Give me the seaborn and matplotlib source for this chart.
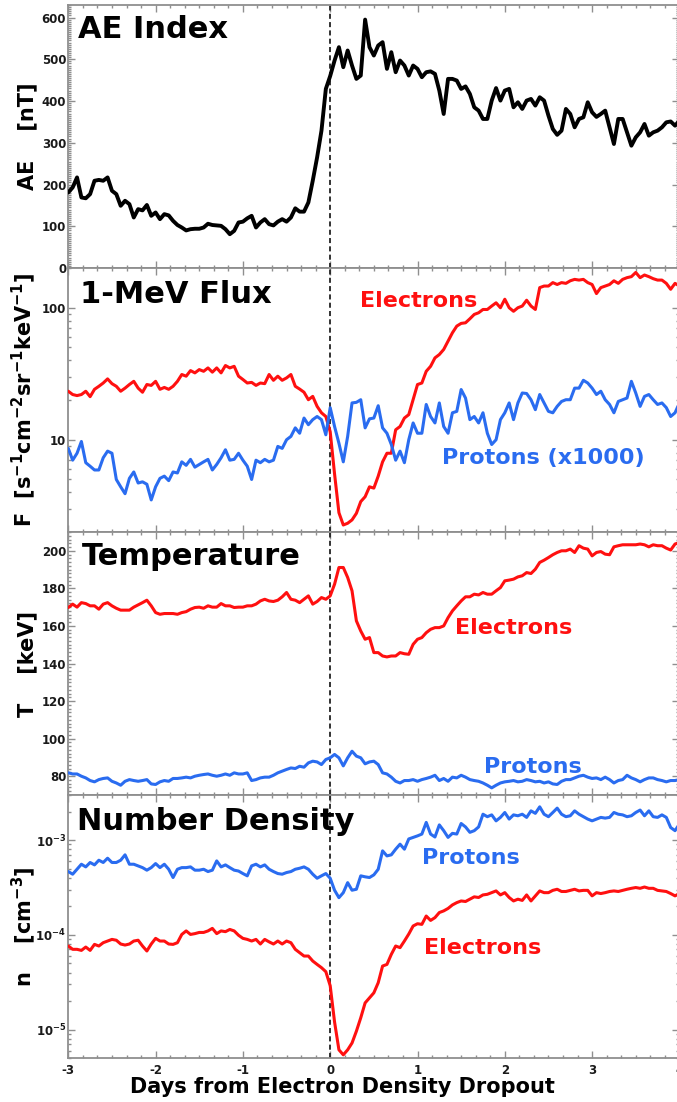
import numpy as np
import pandas as pd
import matplotlib
matplotlib.use("Agg")
import matplotlib.pyplot as plt
import seaborn as sns
from matplotlib.ticker import MultipleLocator, FixedLocator, LogLocator, NullFormatter, FuncFormatter

# ---------------------------------------------------------------------------
# Superposed-epoch averages around the electron density dropout (day 0)
# ---------------------------------------------------------------------------
days = np.round(np.linspace(-3.0, 4.0, 141), 2)  # 0.05-day cadence

ae_index = [
    181, 193, 217, 169, 167, 177, 209, 211, 209, 217,
    185, 177, 149, 161, 153, 121, 141, 138, 151, 125,
    133, 117, 129, 126, 113, 103, 97, 90, 93, 94,
    94, 97, 106, 103, 102, 101, 93, 81, 89, 109,
    111, 119, 125, 97, 109, 117, 105, 102, 111, 117,
    111, 121, 143, 135, 135, 157, 209, 265, 329, 429,
    460,
    497, 529, 481, 521, 485, 453, 461, 595, 529, 509,
    533, 541, 477, 517, 469, 497, 485, 461, 485, 477,
    457, 469, 471, 465, 425, 369, 453, 453, 449, 429,
    435, 417, 385, 377, 357, 357, 401, 431, 401, 425,
    429, 385, 397, 381, 401, 405, 389, 409, 401, 365,
    333, 319, 329, 381, 369, 337, 357, 361, 397, 373,
    362, 369, 377, 337, 297, 357, 357, 325, 293, 313,
    325, 345, 317, 325, 329, 337, 349, 351, 341, 353,
]

flux_electrons = [
    23.3, 22.0, 21.6, 22.0, 23.3, 21.2, 24.1, 25.4, 26.9, 28.9,
    26.6, 25.4, 23.3, 24.6, 26.2, 27.7, 24.6, 22.9, 26.2, 25.8,
    27.7, 24.1, 24.9, 24.1, 25.4, 27.7, 31.2, 30.3, 33.4, 32.1,
    34.0, 33.0, 35.0, 32.5, 35.0, 32.1, 36.5, 35.0, 36.0, 30.3,
    28.6, 26.9, 27.2, 25.8, 26.9, 26.6, 31.2, 28.2, 30.3, 28.2,
    29.4, 31.2, 25.4, 24.2, 22.9, 20.1, 21.3, 17.9, 16.0, 15.0,
    11.5,
    5.5, 2.8, 2.26, 2.33, 2.47, 2.77, 3.4, 3.7, 4.4, 4.3,
    5.3, 6.8, 7.9, 7.9, 11.9, 12.6, 14.6, 15.5, 20.1, 26.2,
    26.9, 33.0, 36.0, 41.7, 44.2, 48.3, 55.9, 64.6, 72.6, 76.1,
    76.9, 82.5, 89.0, 91.6, 97, 97, 103, 109, 100, 116,
    100, 94, 100, 103, 114, 103, 97, 142, 146, 146,
    155, 150, 155, 153, 160, 164, 162, 164, 155, 150,
    128, 142, 146, 150, 160, 153, 164, 169, 172, 185,
    169, 177, 172, 166, 162, 162, 153, 138, 153, 146,
]

flux_protons_x1000 = [
    8.6, 7.0, 7.9, 9.7, 6.7, 6.3, 5.9, 5.9, 7.3, 8.2,
    7.9, 5.0, 4.4, 3.9, 5.1, 5.7, 4.7, 4.8, 4.6, 3.5,
    4.4, 5.1, 5.3, 4.9, 5.7, 5.6, 6.8, 6.4, 7.1, 6.2,
    6.5, 6.8, 7.1, 5.9, 6.5, 7.3, 8.4, 7.0, 7.1, 7.9,
    7.0, 6.3, 5.0, 7.0, 6.7, 7.1, 6.8, 7.0, 8.9, 8.6,
    10.0, 10.6, 12.3, 11.2, 14.6, 13.0, 14.2, 15.0, 14.2, 10.9,
    17.5,
    12.6, 9.4, 6.8, 10.6, 19.0, 19.2, 20.1, 12.3, 14.4, 14.6,
    18.1, 12.3, 11.2, 9.2, 7.0, 8.2, 6.7, 10.0, 13.4, 11.2,
    11.2, 18.5, 15.0, 13.4, 19.0, 12.6, 11.2, 16.0, 16.4, 24.0,
    20.7, 14.2, 15.0, 13.4, 16.0, 11.2, 9.2, 10.0, 14.2, 16.0,
    19.0, 14.2, 19.0, 22.6, 22.4, 20.1, 16.9, 22.0, 19.0, 16.4,
    16.0, 17.9, 19.5, 20.1, 20.1, 24.6, 24.6, 28.2, 26.9, 24.6,
    22.0, 23.3, 20.1, 18.5, 16.0, 19.5, 20.1, 20.7, 27.7, 22.6,
    17.9, 21.3, 22.0, 20.1, 18.5, 19.0, 17.5, 15.0, 16.0, 19.0,
]

temp_electrons = [
    169.8, 171.6, 170.0, 172.4, 171.9, 170.7, 170.7, 168.9, 171.6, 172.4,
    170.7, 169.4, 168.4, 168.4, 168.4, 170.0, 171.2, 172.4, 173.7, 170.7,
    167.1, 166.2, 166.6, 166.6, 166.6, 166.2, 167.1, 167.6, 168.9, 169.8,
    170.0, 169.4, 170.7, 170.0, 170.0, 171.9, 170.7, 170.7, 169.8, 170.0,
    170.0, 170.7, 170.7, 171.6, 173.3, 174.2, 173.3, 173.0, 173.7, 175.5,
    177.8, 174.2, 173.7, 172.4, 174.2, 176.0, 171.6, 173.0, 175.1, 174.2,
    176.0,
    182.2, 191.1, 191.1, 185.8, 178.7, 162.7, 157.3, 152.9, 153.8, 145.8,
    145.8, 144.0, 143.5, 144.0, 144.0, 145.8, 145.2, 144.9, 150.2, 152.9,
    153.8, 156.4, 158.2, 159.1, 159.1, 160.0, 164.4, 168.0, 170.7, 173.3,
    175.5, 175.5, 176.9, 176.5, 177.8, 176.9, 176.9, 178.7, 180.4, 184.0,
    184.4, 184.9, 186.1, 186.7, 188.4, 187.9, 190.2, 193.8, 195.0, 196.4,
    197.9, 199.1, 200.0, 200.0, 200.9, 199.1, 202.7, 201.4, 200.9, 197.3,
    199.1, 199.6, 198.2, 197.9, 202.1, 202.7, 203.2, 203.2, 203.2, 203.2,
    203.6, 203.2, 202.1, 203.2, 202.7, 202.7, 201.4, 200.4, 203.6, 204.4,
]

temp_protons = [
    81.8, 81.2, 81.2, 80.0, 79.1, 77.7, 77.0, 78.2, 78.8, 79.1,
    77.3, 76.4, 75.2, 77.3, 78.2, 77.7, 77.3, 77.7, 78.2, 75.9,
    75.6, 77.0, 77.7, 77.3, 78.8, 78.8, 79.1, 79.5, 79.1, 80.0,
    80.5, 80.9, 81.2, 80.5, 80.0, 80.5, 81.2, 80.5, 81.8, 81.2,
    81.2, 81.8, 77.7, 78.2, 79.1, 79.5, 79.5, 80.5, 81.8, 82.7,
    83.6, 84.4, 84.1, 85.3, 84.8, 87.1, 88.0, 87.6, 86.2, 88.9,
    89.8,
    91.6, 89.8, 85.5, 89.8, 93.3, 90.7, 89.8, 86.6, 87.6, 88.0,
    86.2, 81.8, 81.2, 79.5, 77.3, 76.4, 77.7, 77.7, 78.2, 77.3,
    78.2, 78.8, 79.5, 80.5, 77.7, 78.8, 77.3, 79.5, 79.1, 80.5,
    79.5, 78.2, 77.7, 77.3, 76.4, 75.2, 73.8, 75.2, 76.4, 77.0,
    77.3, 77.7, 77.0, 77.3, 78.2, 77.7, 77.0, 77.3, 76.4, 77.0,
    75.9, 75.6, 77.3, 78.2, 78.2, 79.1, 80.0, 80.5, 79.5, 78.8,
    79.1, 78.2, 79.5, 78.2, 76.4, 77.7, 78.2, 80.5, 79.1, 78.2,
    77.0, 78.2, 79.1, 79.1, 78.2, 77.7, 77.0, 77.7, 77.7, 78.2,
]

# number densities in units of 1e-4 cm^-3
DENSITY_UNIT = 1e-4
density_protons = [
    4.66, 4.37, 4.93, 5.57, 5.22, 5.81, 5.48, 6.14, 5.81, 6.45,
    5.81, 5.81, 6.14, 7.00, 5.57, 5.57, 5.35, 5.13, 4.82, 5.13,
    5.66, 5.13, 5.57, 4.93, 4.03, 4.93, 5.13, 5.13, 5.22, 4.82,
    4.82, 4.93, 4.66, 4.82, 6.04, 5.22, 5.48, 5.13, 4.82, 4.72,
    4.44, 4.20, 5.35, 5.57, 5.22, 5.48, 4.93, 4.66, 4.44, 4.37,
    4.55, 4.66, 4.93, 5.05, 5.22, 4.93, 4.37, 3.96, 4.20, 4.44,
    3.96,
    2.96, 2.47, 2.79, 3.56, 2.96, 3.03, 4.20, 4.10, 4.03, 4.30,
    4.93, 7.71, 6.82, 7.00, 8.03, 9.07, 8.03, 10.3, 10.7, 11.1,
    11.6, 15.4, 11.6, 10.8, 14.5, 12.6, 10.7, 11.8, 11.6, 15.0,
    13.8, 12.1, 12.6, 13.8, 18.8, 17.7, 18.5, 16.0, 17.4, 19.6,
    16.7, 18.5, 18.1, 18.8, 17.4, 20.4, 19.2, 22.5, 18.8, 17.7,
    19.6, 21.8, 18.8, 17.7, 18.1, 20.4, 18.8, 17.7, 16.7, 16.0,
    16.7, 17.4, 17.1, 17.4, 19.6, 18.8, 18.5, 17.7, 18.1, 19.6,
    20.8, 18.1, 20.4, 17.7, 17.4, 18.5, 17.4, 13.6, 12.6, 14.8,
]

density_electrons = [
    0.762, 0.703, 0.703, 0.685, 0.743, 0.685, 0.793, 0.762, 0.826, 0.860,
    0.895, 0.877, 0.800, 0.780, 0.800, 0.860, 0.877, 0.762, 0.675, 0.800,
    0.918, 0.860, 0.860, 0.800, 0.793, 0.826, 1.010, 1.100, 1.010, 1.030,
    1.060, 1.060, 1.100, 1.170, 1.030, 1.100, 1.080, 1.140, 1.100, 0.990,
    0.918, 0.895, 0.860, 0.895, 0.800, 0.895, 0.843, 0.800, 0.860, 0.800,
    0.860, 0.826, 0.703, 0.647, 0.597, 0.597, 0.529, 0.487, 0.450, 0.408,
    0.290,
    0.120, 0.061, 0.054, 0.061, 0.072, 0.096, 0.133, 0.191, 0.216, 0.244,
    0.312, 0.468, 0.487, 0.622, 0.762, 0.732, 0.860, 1.020, 1.240, 1.310,
    1.290, 1.580, 1.420, 1.520, 1.720, 1.790, 1.900, 2.070, 2.190, 2.280,
    2.250, 2.380, 2.520, 2.480, 2.640, 2.680, 2.790, 2.910, 2.640, 2.790,
    2.480, 2.280, 2.380, 2.310, 2.640, 2.280, 2.580, 2.910, 2.790, 2.790,
    2.950, 3.030, 2.870, 2.870, 2.950, 3.030, 2.910, 2.950, 2.950, 2.580,
    2.790, 2.730, 2.790, 2.870, 2.910, 2.870, 2.950, 3.030, 3.100, 3.160,
    3.100, 3.200, 3.100, 3.100, 2.950, 2.910, 2.870, 2.730, 2.580, 2.730,
]

ae_ticks = [0, 100, 200, 300, 400, 500, 600]
temp_ticks = [80, 100, 120, 140, 160, 180, 200]
flux_ticks = [10, 100]
density_ticks = [1e-5, 1e-4, 1e-3]
day_ticks = [-3, -2, -1, 0, 1, 2, 3, 4]

# ---------------------------------------------------------------------------
# Styling
# ---------------------------------------------------------------------------
sns.set_style("ticks")
plt.rcParams.update({
    "font.family": ["DejaVu Sans"],
    "font.weight": "bold",
    "axes.labelweight": "bold",
    "mathtext.fontset": "dejavusans",
    "mathtext.default": "bf",
    "axes.edgecolor": "#8f8f8f",
    "axes.linewidth": 1.3,
    "xtick.color": "#8f8f8f",
    "ytick.color": "#8f8f8f",
    "xtick.labelcolor": "#1a1a1a",
    "ytick.labelcolor": "#1a1a1a",
})

RED = "#ff1010"
BLUE = "#2a6cf0"
BLACK = "#000000"

W_PX, H_PX = 677, 1102
fig = plt.figure(figsize=(W_PX / 100, H_PX / 100), dpi=100)

left_px, right_px = 68.3, 679.4
edges_px = [5, 268, 532, 795, 1058]
axes = []
for top, bot in zip(edges_px[:-1], edges_px[1:]):
    ax = fig.add_axes([left_px / W_PX, 1 - bot / H_PX,
                       (right_px - left_px) / W_PX, (bot - top) / H_PX])
    axes.append(ax)
ax_ae, ax_flux, ax_temp, ax_dens = axes


def style_axis(ax, show_xlabels):
    ax.set_xlim(-3, 4)
    ax.xaxis.set_major_locator(FixedLocator(day_ticks))
    ax.xaxis.set_minor_locator(MultipleLocator(1 / 6))
    ax.tick_params(which="both", direction="in", top=True, right=True,
                   width=1.0, labelsize=8.5, pad=1.5)
    ax.tick_params(which="major", length=5)
    ax.tick_params(which="minor", length=2.5)
    ax.tick_params(axis="x", labelbottom=show_xlabels, pad=4)
    ax.axvline(0, color="#222222", lw=1.3, ls=(0, (2.8, 1.8)), zorder=1)
    ax.set_xlabel("")
    for s in ax.spines.values():
        s.set_visible(True)


def panel_title(ax, text, x, y):
    ax.text(x, y, text, transform=ax.transAxes, ha="left", va="top",
            fontsize=22, fontweight="bold", color="black")


def ylab(ax, text):
    ax.set_ylabel(text, fontsize=15, fontweight="bold", color="black")
    ax.yaxis.set_label_coords(-0.05, 0.5)


# --- AE index -------------------------------------------------------------
sns.lineplot(x=days, y=ae_index, ax=ax_ae, color=BLACK, lw=2.8,
             estimator=None, legend=False, zorder=3)
ax_ae.set_ylim(0, 630)
ax_ae.yaxis.set_major_locator(FixedLocator(ae_ticks))
ax_ae.yaxis.set_minor_locator(MultipleLocator(5))
style_axis(ax_ae, False)
panel_title(ax_ae, "AE Index", 0.016, 0.962)
ylab(ax_ae, "AE    [nT]")

# --- 1-MeV flux -----------------------------------------------------------
sns.lineplot(x=days, y=flux_electrons, ax=ax_flux, color=RED, lw=2.2,
             estimator=None, legend=False, zorder=3)
sns.lineplot(x=days, y=flux_protons_x1000, ax=ax_flux, color=BLUE, lw=2.2,
             estimator=None, legend=False, zorder=3)
ax_flux.set_yscale("log")
ax_flux.set_ylim(2, 200)
ax_flux.yaxis.set_major_locator(FixedLocator(flux_ticks))
ax_flux.yaxis.set_major_formatter(FuncFormatter(lambda v, p: f"{v:g}"))
ax_flux.yaxis.set_minor_locator(LogLocator(base=10, subs=np.arange(2, 10)))
ax_flux.yaxis.set_minor_formatter(NullFormatter())
style_axis(ax_flux, False)
panel_title(ax_flux, "1-MeV Flux", 0.019, 0.955)
ylab(ax_flux, r"F  [s$^{-1}$cm$^{-2}$sr$^{-1}$keV$^{-1}$]")
ax_flux.text(0.34, 102, "Electrons", color=RED, fontsize=16,
             fontweight="bold", ha="left", va="baseline")
ax_flux.text(1.28, 6.5, "Protons (x1000)", color=BLUE, fontsize=16,
             fontweight="bold", ha="left", va="baseline")

# --- temperature ----------------------------------------------------------
sns.lineplot(x=days, y=temp_electrons, ax=ax_temp, color=RED, lw=2.2,
             estimator=None, legend=False, zorder=3)
sns.lineplot(x=days, y=temp_protons, ax=ax_temp, color=BLUE, lw=2.2,
             estimator=None, legend=False, zorder=3)
ax_temp.set_ylim(70, 210)
ax_temp.yaxis.set_major_locator(FixedLocator(temp_ticks))
ax_temp.yaxis.set_minor_locator(MultipleLocator(2))
style_axis(ax_temp, False)
panel_title(ax_temp, "Temperature", 0.023, 0.962)
ylab(ax_temp, "T    [keV]")
ax_temp.text(1.43, 155.6, "Electrons", color=RED, fontsize=16,
             fontweight="bold", ha="left", va="baseline")
ax_temp.text(1.76, 81.8, "Protons", color=BLUE, fontsize=16,
             fontweight="bold", ha="left", va="baseline")

# --- number density -------------------------------------------------------
sns.lineplot(x=days, y=np.array(density_protons) * DENSITY_UNIT, ax=ax_dens,
             color=BLUE, lw=2.2, estimator=None, legend=False, zorder=3)
sns.lineplot(x=days, y=np.array(density_electrons) * DENSITY_UNIT, ax=ax_dens,
             color=RED, lw=2.2, estimator=None, legend=False, zorder=3)
ax_dens.set_yscale("log")
ax_dens.set_ylim(5e-6, 3e-3)
ax_dens.yaxis.set_major_locator(FixedLocator(density_ticks))
ax_dens.yaxis.set_major_formatter(
    FuncFormatter(lambda v, p: r"$10^{%d}$" % int(round(np.log10(v)))))
ax_dens.yaxis.set_minor_locator(LogLocator(base=10, subs=np.arange(2, 10)))
ax_dens.yaxis.set_minor_formatter(NullFormatter())
style_axis(ax_dens, True)
ax_dens.set_xticklabels([str(t) for t in day_ticks])
panel_title(ax_dens, "Number Density", 0.015, 0.954)
ylab(ax_dens, r"n    [cm$^{-3}$]")
ax_dens.text(1.05, 5.57e-4, "Protons", color=BLUE, fontsize=16,
             fontweight="bold", ha="left", va="baseline")
ax_dens.text(1.07, 6.32e-5, "Electrons", color=RED, fontsize=16,
             fontweight="bold", ha="left", va="baseline")
ax_dens.set_xlabel("Days from Electron Density Dropout", fontsize=15,
                   fontweight="bold", color="black")
ax_dens.xaxis.set_label_coords(0.448, -0.072)
ax_dens.xaxis.label.set_va("top")

fig.savefig("out.png", dpi=100, facecolor="white")
